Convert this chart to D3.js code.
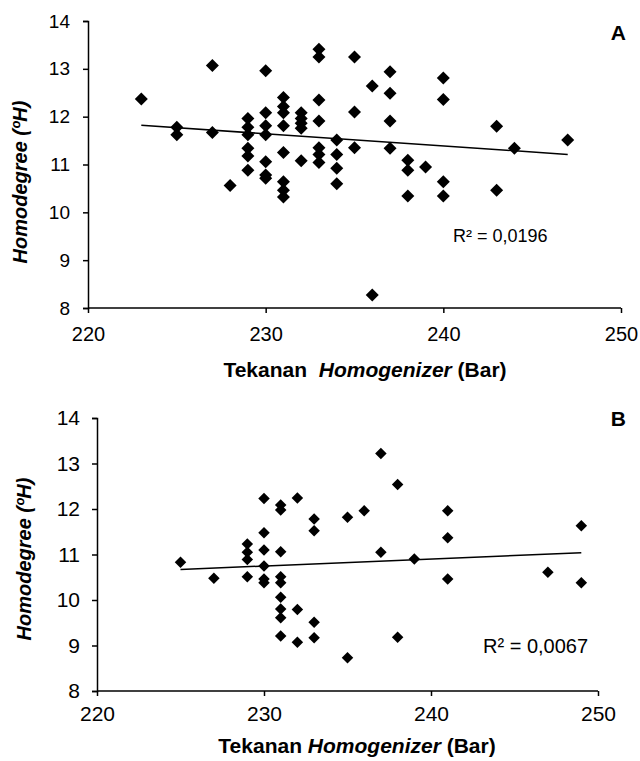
<!DOCTYPE html>
<html>
<head>
<meta charset="utf-8">
<script src="https://cdn.jsdelivr.net/npm/d3@7"></script>
<style>
  body { margin: 0; background: #fff; }
  svg { font-family: Arial, "Liberation Sans", sans-serif; }
</style>
</head>
<body>
<script>
"use strict";
// Panel A data
const pressureA = [223, 225, 225, 227, 227, 228,
    229, 229, 229, 229, 229, 229,
    230, 230, 230, 230, 230, 230, 230,
    231, 231, 231, 231, 231, 231, 231, 231,
    232, 232, 232, 232, 232,
    233, 233, 233, 233, 233, 233, 233,
    234, 234, 234, 234,
    235, 235, 235,
    236, 236,
    237, 237, 237, 237,
    238, 238, 238,
    239,
    240, 240, 240, 240,
    243, 243, 244, 247];
const homoA = [12.37, 11.78, 11.62, 13.07, 11.67, 10.56,
    11.96, 11.78, 11.62, 11.34, 11.18, 10.88,
    12.96, 12.08, 11.81, 11.62, 11.06, 10.78, 10.71,
    12.40, 12.21, 12.08, 11.81, 11.25, 10.64, 10.46, 10.32,
    12.08, 11.96, 11.86, 11.76, 11.08,
    13.41, 13.25, 12.35, 11.91, 11.35, 11.21, 11.04,
    11.51, 11.21, 10.92, 10.60,
    13.25, 12.10, 11.35,
    12.64, 8.27,
    12.94, 12.49, 11.91, 11.34,
    11.09, 10.88, 10.34,
    10.95,
    12.81, 12.36, 10.64, 10.34,
    11.80, 10.46, 11.34, 11.51];
// linear trendline A: [pressure, homodegree]
const trendA = [[223, 11.82], [247, 11.21]];

// Panel B data
const pressureB = [225, 227,
    229, 229, 229, 229,
    230, 230, 230, 230, 230, 230,
    231, 231, 231, 231, 231, 231, 231, 231, 231,
    232, 232, 232,
    233, 233, 233, 233,
    235, 235, 236, 237, 237, 238, 238, 239,
    241, 241, 241, 247, 249, 249];
const homoB = [10.83, 10.48,
    11.23, 11.05, 10.89, 10.51,
    12.23, 11.48, 11.10, 10.75, 10.46, 10.38,
    12.09, 11.98, 11.06, 10.51, 10.38, 10.06, 9.80, 9.61, 9.21,
    12.24, 9.79, 9.07,
    11.78, 11.52, 9.51, 9.17,
    11.82, 8.73, 11.96, 13.22, 11.05, 12.54, 9.18, 10.90,
    11.96, 11.37, 10.46, 10.61, 11.63, 10.38];
const trendB = [[225, 10.67], [249, 11.04]];

const xTicks = [220, 230, 240, 250];
const yTicks = [8, 9, 10, 11, 12, 13, 14];
const r2Labels = ["R² = 0,0196", "R² = 0,0067"];
const panelLetters = ["A", "B"];

const svg = d3.select("body").append("svg")
    .attr("width", 640)
    .attr("height", 761);

const panels = [
    { xs: pressureA, ys: homoA, trend: trendA, left: 88, right: 621, top: 21, bottom: 308,
      letter: panelLetters[0], letterY: 40, r2: r2Labels[0], r2x: 453, r2y: 242, r2font: 18,
      yLabelX: 27, yLabelY: 182, xTitleX: 365, xTitleY: 377, titleGap: "  ",
      xFont: 20, yFont: 19, labelFont: 20, xPad: 14, yPad: 13, size: 13 },
    { xs: pressureB, ys: homoB, trend: trendB, left: 97, right: 598, top: 418, bottom: 691,
      letter: panelLetters[1], letterY: 426, r2: r2Labels[1], r2x: 483, r2y: 653, r2font: 20,
      yLabelX: 31, yLabelY: 559, xTitleX: 357, xTitleY: 753, titleGap: " ",
      xFont: 21, yFont: 21, labelFont: 20, xPad: 10, yPad: 12, size: 11.5 }
];

panels.forEach(function(p) {
    const x = d3.scaleLinear().domain([220, 250]).range([p.left, p.right]);
    const y = d3.scaleLinear().domain([8, 14]).range([p.bottom, p.top]);
    const g = svg.append("g");

    const yAxis = g.append("g")
        .attr("transform", `translate(${p.left},0)`)
        .call(d3.axisLeft(y).tickValues(yTicks).tickFormat(d3.format("d"))
            .tickSize(5).tickPadding(p.yPad));
    const xAxis = g.append("g")
        .attr("transform", `translate(0,${p.bottom})`)
        .call(d3.axisBottom(x).tickValues(xTicks).tickFormat(d3.format("d"))
            .tickSize(5).tickPadding(p.xPad));

    [xAxis, yAxis].forEach(function(ax) {
        ax.select(".domain").attr("stroke", "#000").attr("stroke-width", 1.5);
        ax.selectAll(".tick line").attr("stroke", "#000").attr("stroke-width", 1.5);
        ax.selectAll(".tick text").attr("fill", "#000")
            .style("font-family", "Arial, 'Liberation Sans', sans-serif");
    });
    xAxis.selectAll(".tick text").style("font-size", p.xFont + "px");
    yAxis.selectAll(".tick text").style("font-size", p.yFont + "px");
    xAxis.select(".domain").attr("d", `M${p.left},0H${p.right}`);

    // trendline
    g.append("line")
        .attr("x1", x(p.trend[0][0])).attr("y1", y(p.trend[0][1]))
        .attr("x2", x(p.trend[1][0])).attr("y2", y(p.trend[1][1]))
        .attr("stroke", "#000").attr("stroke-width", 1.5);

    // points
    const half = p.size / 2;
    g.selectAll(".pt")
        .data(p.xs.map((v, i) => [v, p.ys[i]]))
        .enter()
        .append("path")
            .attr("class", "pt")
            .attr("d", `M0,${-half}L${half},0L0,${half}L${-half},0Z`)
            .attr("transform", d => `translate(${x(d[0])},${y(d[1])})`)
            .attr("fill", "#000");

    g.append("text")
        .attr("x", p.r2x).attr("y", p.r2y)
        .style("font-size", p.r2font + "px")
        .text(p.r2);

    g.append("text")
        .attr("x", 626).attr("y", p.letterY)
        .attr("text-anchor", "end")
        .style("font-size", "21px").style("font-weight", "bold")
        .text(p.letter);

    const yl = g.append("text")
        .attr("transform", `translate(${p.yLabelX},${p.yLabelY}) rotate(-90)`)
        .attr("text-anchor", "middle")
        .style("font-size", p.labelFont + "px").style("font-weight", "bold").style("font-style", "italic");
    yl.append("tspan").text("Homodegree ");
    yl.append("tspan").text("(ºH)");

    const xt = g.append("text")
        .attr("x", p.xTitleX).attr("y", p.xTitleY)
        .attr("text-anchor", "middle")
        .style("font-size", "21px").style("font-weight", "bold")
        .style("white-space", "pre");
    xt.append("tspan").text("Tekanan" + p.titleGap);
    xt.append("tspan").style("font-style", "italic").text("Homogenizer");
    xt.append("tspan").text(" (Bar)");
});
</script>
</body>
</html>
